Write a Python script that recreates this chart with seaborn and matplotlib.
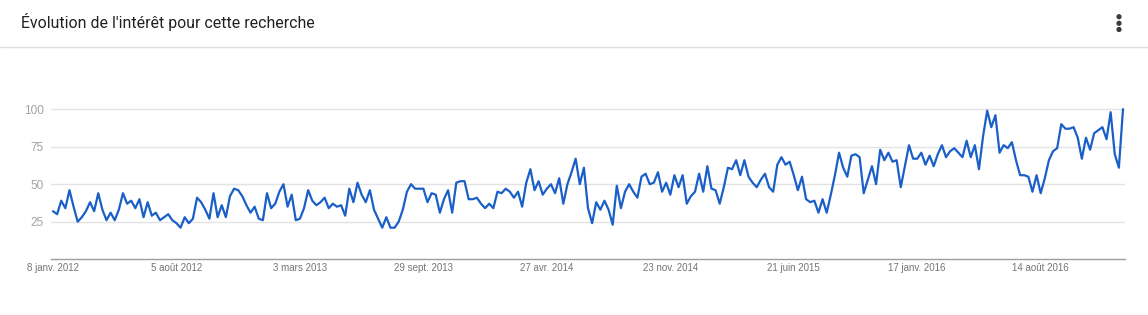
import numpy as np
import pandas as pd
import matplotlib
matplotlib.use("Agg")
import matplotlib.pyplot as plt
import seaborn as sns
from matplotlib.patches import Circle
from matplotlib.lines import Line2D
from matplotlib.transforms import IdentityTransform

# ---------------- data ----------------
title = "Évolution de l'intérêt pour cette recherche"
start_date = "2012-01-08"
interest = [
    32, 30, 39, 34, 46, 35, 25, 28, 32, 38,
    32, 44, 33, 26, 31, 26, 33, 44, 37, 39,
    34, 40, 28, 38, 29, 31, 26, 28, 30, 26,
    24, 21, 28, 24, 27, 41, 38, 33, 27, 44,
    28, 36, 28, 42, 47, 46, 42, 36, 31, 35,
    27, 26, 44, 34, 37, 45, 50, 35, 43, 26,
    27, 34, 46, 39, 36, 38, 41, 34, 37, 35,
    36, 29, 47, 38, 51, 43, 38, 46, 33, 27,
    21, 28, 21, 21, 25, 33, 45, 50, 47, 47,
    47, 38, 44, 43, 31, 40, 46, 31, 51, 52,
    52, 40, 40, 41, 37, 34, 37, 34, 45, 44,
    47, 45, 41, 45, 35, 51, 60, 46, 52, 43,
    47, 50, 44, 54, 37, 50, 58, 67, 50, 61,
    34, 24, 38, 33, 39, 33, 23, 49, 34, 45,
    50, 45, 41, 55, 57, 50, 51, 58, 45, 51,
    43, 56, 48, 56, 37, 42, 45, 57, 45, 62,
    47, 46, 37, 48, 61, 60, 66, 56, 66, 55,
    51, 48, 53, 57, 48, 45, 63, 68, 63, 65,
    56, 46, 55, 40, 38, 39, 31, 40, 31, 43,
    56, 71, 61, 55, 69, 70, 68, 44, 53, 62,
    50, 73, 66, 71, 65, 66, 48, 62, 76, 67,
    67, 71, 63, 69, 62, 70, 76, 68, 72, 74,
    71, 68, 79, 68, 76, 60, 82, 99, 88, 96,
    71, 76, 74, 78, 66, 56, 56, 55, 45, 56,
    44, 54, 66, 72, 74, 90, 87, 87, 88, 81,
    67, 81, 73, 84, 86, 88, 80, 98, 70, 61, 100,
]
tick_dates = ["2012-01-08", "2012-08-05", "2013-03-03", "2013-09-29",
              "2014-04-27", "2014-11-23", "2015-06-21", "2016-01-17",
              "2016-08-14"]
tick_labels = ["8 janv. 2012", "5 août 2012", "3 mars 2013", "29 sept. 2013",
               "27 avr. 2014", "23 nov. 2014", "21 juin 2015", "17 janv. 2016",
               "14 août 2016"]
y_ticks = [25, 50, 75, 100]

weeks = pd.date_range(start_date, periods=len(interest), freq="7D")
df = pd.DataFrame({"semaine": weeks, "intérêt": interest})

# ---------------- style ----------------
sns.set_theme(style="white")
plt.rcParams["font.family"] = ["Liberation Sans", "DejaVu Sans"]

W, H = 1148, 315
fig = plt.figure(figsize=(W / 100, H / 100), dpi=100)
fig.patch.set_facecolor("white")

y0_px = 259.2      # pixel row of value 0
px_per_unit = 1.5
ymax = 104
top_px = y0_px - ymax * px_per_unit
ax = fig.add_axes([51 / W, (H - y0_px) / H, (1125 - 51) / W, (y0_px - top_px) / H])

sns.lineplot(data=df, x="semaine", y="intérêt", ax=ax, color="#1a5fc8",
             linewidth=1.6, clip_on=False)

ax.set_ylim(0, ymax)
half = pd.Timedelta(days=3.4)
ax.set_xlim(weeks[0] - half, weeks[-1] + half)
ax.set_yticks(y_ticks)
ax.set_yticklabels([str(v) for v in y_ticks])
ax.set_xticks(pd.to_datetime(tick_dates))
ax.set_xticklabels(tick_labels)
ax.grid(axis="y", color="#e3e3e3", linewidth=1)
ax.grid(axis="x", visible=False)
ax.set_axisbelow(True)
for s in ["top", "right", "left"]:
    ax.spines[s].set_visible(False)
ax.spines["bottom"].set_color("#9e9e9e")
ax.spines["bottom"].set_linewidth(1)
ax.tick_params(axis="y", length=0, pad=5, labelsize=8.5, labelcolor="#a3a3a3")
ax.tick_params(axis="x", length=0, pad=2.5, labelsize=7, labelcolor="#757575")
ax.set_xlabel("")
ax.set_ylabel("")
ax.set_facecolor("white")

# header
fig.text(21 / W, 1 - 22 / H, title, fontsize=11.4, color="#212121",
         family=["Roboto", "DejaVu Sans"], va="center", ha="left")
fig.add_artist(Line2D([0, 1], [1 - 46.5 / H] * 2, transform=fig.transFigure,
                      color="#e0e0e0", linewidth=1))
for yy in (16.7, 23.3, 29.5):
    fig.add_artist(Circle((1119, H - yy), 1.9, transform=IdentityTransform(),
                          color="#3a3a3a"))

fig.savefig("out.png", dpi=100, facecolor="white")
